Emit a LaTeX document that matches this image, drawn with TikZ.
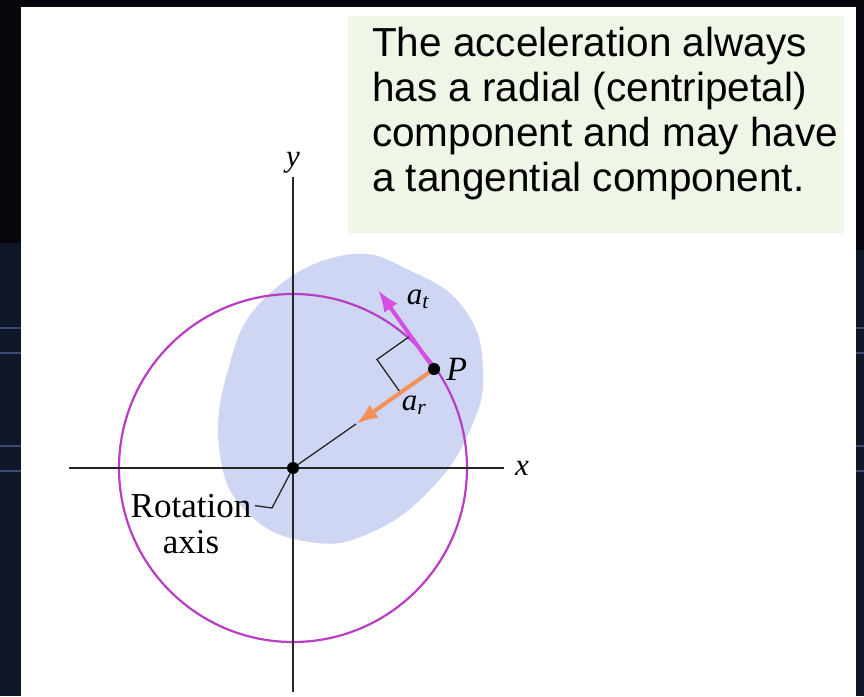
\documentclass[tikz,border=0pt]{standalone}
\usepackage{fontspec}
\setmainfont{Liberation Serif}
\newfontfamily\notefont{Liberation Sans}
\usetikzlibrary{positioning,arrows.meta,calc}
\definecolor{bgdark}{HTML}{05070D}
\definecolor{bgband}{HTML}{0E1628}
\definecolor{bgline}{HTML}{3A4A70}
\definecolor{notegreen}{HTML}{EFF6E7}
\definecolor{blobblue}{HTML}{CFD6F3}
\definecolor{orbitpink}{HTML}{BA3EC4}
\definecolor{tanpink}{HTML}{D64EE2}
\definecolor{radorange}{HTML}{F2915A}

\begin{document}
\begin{tikzpicture}[x=1pt, y=-1pt, dot/.style={circle, fill=black, inner sep=0pt, minimum size=12pt}, axisline/.style={line width=2.4pt, black!85}, leader/.style={line width=1.3pt, black!85}, lbl/.style={inner sep=1pt, font=\fontsize{31}{34}\selectfont\itshape}, note/.style={fill=notegreen, minimum width=496pt, minimum height=217pt, inner sep=0pt}, vec/.style={line width=4pt, -{Latex[length=22pt, width=16pt]}}]
\useasboundingbox (0,0) rectangle (864,696);
% dark frame round the page
\fill[bgdark] (0,0) rectangle (864,696);
\fill[bgband] (0,243) rectangle (21,696); \fill[bgband] (856,250) rectangle (864,696);
\foreach \yy in {327,352,445,470} {\fill[bgline] (0,\yy) rectangle (21,\yy+2); \fill[bgline] (856,\yy) rectangle (864,\yy+2);}
\fill[white] (21,7) rectangle (856,696);
% note
\node[note, anchor=north west] (note) at (348,16) {};
\node[anchor=north west, inner sep=0pt, align=left, font=\notefont\fontsize{40.5}{45}\selectfont] (msg) at ([xshift=24pt, yshift=-11pt]note.north west) {The acceleration always\\has a radial (centripetal)\\component and may have\\a tangential component.};
% body, orbit and axes
\fill[blobblue] plot[smooth cycle, tension=0.75] coordinates {(345,255) (413,272) (465,310) (483,370) (470,430) (430,490) (370,533) (310,542) (250,515) (220,455) (228,370) (265,298)};
\coordinate (O) at (293,468); \coordinate (P) at (434,369);
\draw[orbitpink, line width=2.2pt] (O) circle[radius=174];
\coordinate (xl) at (69,468); \coordinate (xr) at (504,468);
\coordinate (yt) at (293,177); \coordinate (yb) at (293,692);
\draw[axisline] (xl) -- (xr); \draw[axisline] (yb) -- (yt);
\node[lbl, right=10pt of xr] (x) {x};
\node[lbl, above=3pt of yt] (y) {y};
% vectors at P
\coordinate (at) at (378,290); \coordinate (ar) at (356,424);
\draw[leader] (O) -- (ar);
\coordinate (m1) at ($(P)!0.42!(at)$); \coordinate (m2) at ($(P)!0.43!(ar)$);
\draw[leader] (m1) -- ($(m1)+(m2)-(P)$) -- (m2);
\draw[vec, tanpink] (P) -- (at);
\draw[vec, radorange] (P) -- (ar);
\node[dot] (o) at (O) {};
\node[dot] (p) at (P) {};
\node[lbl, font=\fontsize{34}{36}\selectfont\itshape, right=5pt of p] (pl) {P};
\node[lbl] (atl) at (418,299) {a\textsubscript{t}};
\node[lbl] (arl) at (414,405) {a\textsubscript{r}};
\node[font=\fontsize{35}{38}\selectfont, anchor=base] (rot) at (191,517) {Rotation};
\node[font=\fontsize{35}{38}\selectfont, anchor=base] (ax) at (191,553) {axis};
\draw[leader] (o) -- (272,508) -- (rot.east);
\end{tikzpicture}
\end{document}
